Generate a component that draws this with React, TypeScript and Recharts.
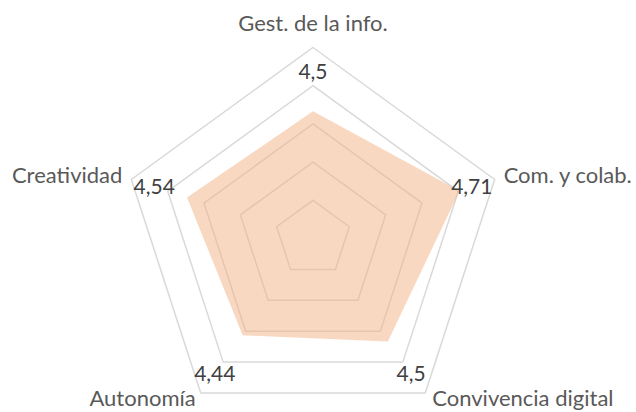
import React from 'react';
import { RadarChart, Radar, PolarGrid, PolarAngleAxis, PolarRadiusAxis } from 'recharts';

const categories = ['Gest. de la info.', 'Com. y colab.', 'Convivencia digital', 'Autonomía', 'Creatividad'];
const values = [4.5, 4.71, 4.5, 4.44, 4.54];
const valueLabels = ['4,5', '4,71', '4,5', '4,44', '4,54'];
const radiusTicks = [3.5, 3.8, 4.1, 4.4, 4.7, 5.0];

const data = categories.map((c, i) => ({ category: c, value: values[i] }));

const W = 636;
const H = 412;
const CX = 313;
const CY = 238.5;
const R = 191;
const LABEL_R = 167;
const FONT = 'Lato, "Open Sans", sans-serif';
const FS = 22;
const VFS = 21;

function AngleTick(props: any) {
  const { x, y, payload } = props;
  const ang = Math.atan2(CY - y, x - CX);
  const cos = Math.cos(ang);
  const sin = Math.sin(ang);
  const vx = CX + R * cos;
  const vy = CY - R * sin;
  let tx = vx;
  let ty = vy;
  let anchor: 'start' | 'middle' | 'end' = 'middle';
  if (Math.abs(cos) < 0.1) {
    ty = vy - 17;
  } else if (sin > 0) {
    anchor = cos > 0 ? 'start' : 'end';
    tx = vx + (cos > 0 ? 9 : -9);
    ty = vy + 4;
  } else {
    anchor = cos > 0 ? 'start' : 'end';
    tx = vx + (cos > 0 ? 7 : -5);
    ty = vy + 13;
  }
  const idx = categories.indexOf(payload.value);
  const lx = CX + LABEL_R * cos;
  const ly = CY - LABEL_R * sin;
  return (
    <g>
      <text x={tx} y={ty} textAnchor={anchor} fill="#595959" fontSize={FS} fontFamily={FONT}>
        {payload.value}
      </text>
      <text x={lx} y={ly + 7.5} textAnchor="middle" fill="#404040" fontSize={VFS} fontFamily={FONT}>
        {idx >= 0 ? valueLabels[idx] : ''}
      </text>
    </g>
  );
}

export default function App() {
  return (
    <div style={{ position: 'absolute', left: 0, top: 0, width: W, height: H, background: '#fff' }}>
      <RadarChart width={W} height={H} data={data} cx={CX} cy={CY} outerRadius={R} margin={{ top: 0, right: 0, bottom: 0, left: 0 }}>
        <PolarGrid gridType="polygon" radialLines={false} stroke="#d9d9d9" strokeWidth={1.5} />
        <PolarRadiusAxis domain={[3.5, 5]} ticks={radiusTicks as any} tickCount={6} tick={false} axisLine={false} angle={90} />
        <PolarAngleAxis dataKey="category" tick={<AngleTick />} tickLine={false} axisLine={false} />
        <Radar dataKey="value" fill="#F4B183" fillOpacity={0.5} stroke="none" isAnimationActive={false} />
      </RadarChart>
    </div>
  );
}
